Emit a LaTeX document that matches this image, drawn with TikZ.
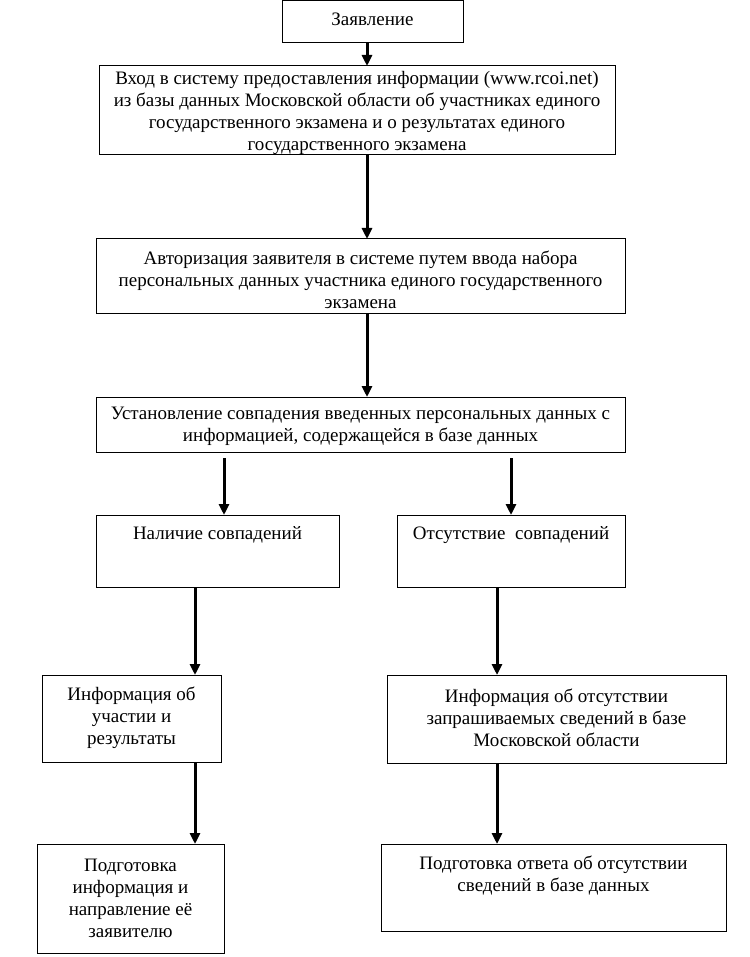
\documentclass[tikz,border=0pt]{standalone}
\usepackage{fontspec}
\setmainfont{Liberation Serif}
\usetikzlibrary{arrows.meta}
\begin{document}
\begin{tikzpicture}[x=1pt,y=-1pt,
  box/.style={draw, line width=1pt, inner sep=0pt, outer sep=0pt, anchor=north west},
  txt/.style={align=center, inner sep=0pt, font=\fontsize{19}{22}\selectfont},
  arr/.style={line width=3pt, -{Triangle[width=10pt,length=11pt]}}]
\useasboundingbox (0,0) rectangle (749,957);
% boxes
\node[box, minimum width=181pt, minimum height=42.5pt] (b1) at (282,0.5) {};
\node[box, minimum width=516pt, minimum height=89pt] (b2) at (99,66) {};
\node[box, minimum width=529pt, minimum height=74pt] (b3) at (96,239) {};
\node[box, minimum width=529pt, minimum height=55pt] (b4) at (96,397) {};
\node[box, minimum width=243pt, minimum height=72pt] (b5) at (96,515) {};
\node[box, minimum width=228pt, minimum height=72pt] (b6) at (397,515) {};
\node[box, minimum width=179pt, minimum height=87pt] (b7) at (42,675) {};
\node[box, minimum width=339pt, minimum height=88pt] (b8) at (387,675) {};
\node[box, minimum width=187pt, minimum height=109pt] (b9) at (37,844) {};
\node[box, minimum width=345pt, minimum height=87pt] (b10) at (381,844) {};
% texts
\node[txt] (t1) at (372.5,19) {Заявление};
\node[txt] (t2) at (357,113) {Вход в систему предоставления информации (www.rcoi.net)\\из базы данных Московской области об участниках единого\\государственного экзамена и о результатах единого\\государственного экзамена};
\node[txt] (t3) at (360.5,279.5) {Авторизация заявителя в системе путем ввода набора\\персональных данных участника единого государственного\\экзамена};
\node[txt] (t4) at (360.5,426.5) {Установление совпадения введенных персональных данных с\\информацией, содержащейся в базе данных};
\node[txt] (t5) at (217.5,535) {Наличие совпадений};
\node[txt] (t6) at (511,535) {Отсутствие\ \ совпадений};
\node[txt] (t7) at (131.5,717.5) {Информация об\\участии и\\результаты};
\node[txt] (t8) at (556.5,717.5) {Информация об отсутствии\\запрашиваемых сведений в базе\\Московской области};
\node[txt] (t9) at (130.5,898) {Подготовка\\информация и\\направление её\\заявителю};
\node[txt] (t10) at (553.5,875.5) {Подготовка ответа об отсутствии\\сведений в базе данных};
% arrows
\draw[arr] (367,0 |- b1.south) -- (367,0 |- b2.north);
\draw[arr] (367,0 |- b2.south) -- (367,0 |- b3.north);
\draw[arr] (367,0 |- b3.south) -- (367,0 |- b4.north);
\draw[arr] ([yshift=-6pt]224,0 |- b4.south) -- (224,0 |- b5.north);
\draw[arr] ([yshift=-6pt]511,0 |- b4.south) -- (511,0 |- b6.north);
\draw[arr] (195,0 |- b5.south) -- (195,0 |- b7.north);
\draw[arr] (497,0 |- b6.south) -- (497,0 |- b8.north);
\draw[arr] (195,0 |- b7.south) -- (195,0 |- b9.north);
\draw[arr] (497,0 |- b8.south) -- (497,0 |- b10.north);
\end{tikzpicture}
\end{document}
